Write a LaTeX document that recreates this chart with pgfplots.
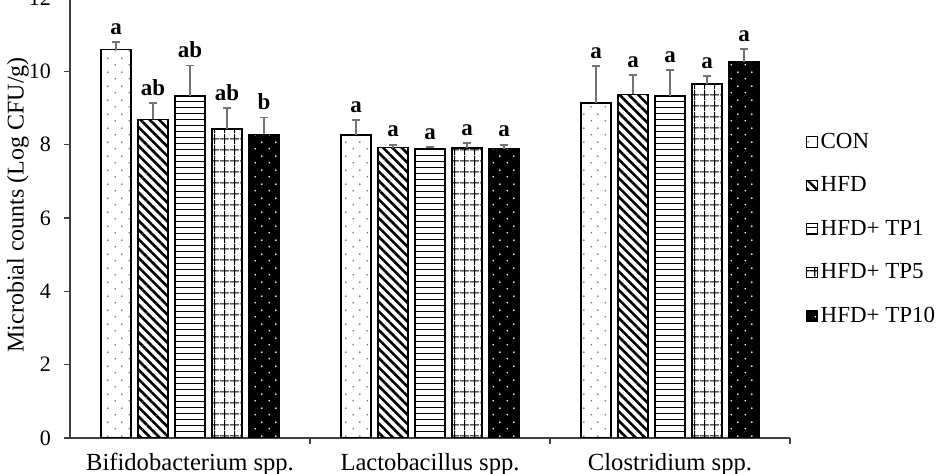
\documentclass[border=0pt]{standalone}
\usepackage{pgfplots}
\usepackage{pgfplotstable}
\pgfplotsset{compat=1.18}
\usepackage{fontspec}
\setmainfont{Liberation Serif}
\usetikzlibrary{patterns.meta}

% staggered dot tile (used grey on white and white on black)
\pgfdeclarepattern{
  name=sparsedots,
  type=uncolored,
  bottom left={\pgfpoint{0pt}{0pt}},
  top right={\pgfpoint{7pt}{7pt}},
  tile size={\pgfpoint{7pt}{7pt}},
  code={
    \pgfpathcircle{\pgfpoint{1.75pt}{1.75pt}}{0.5pt}
    \pgfpathcircle{\pgfpoint{5.25pt}{5.25pt}}{0.5pt}
    \pgfusepath{fill}
  }
}
% open square grid
\pgfdeclarepattern{
  name=widegrid,
  type=uncolored,
  bottom left={\pgfpoint{0pt}{0pt}},
  top right={\pgfpoint{5pt}{5.5pt}},
  tile size={\pgfpoint{5pt}{5.5pt}},
  code={
    \pgfsetlinewidth{0.6pt}
    \pgfpathmoveto{\pgfpoint{0pt}{2.75pt}}\pgfpathlineto{\pgfpoint{5pt}{2.75pt}}
    \pgfpathmoveto{\pgfpoint{2.5pt}{0pt}}\pgfpathlineto{\pgfpoint{2.5pt}{5.5pt}}
    \pgfusepath{stroke}
  }
}

% columns: group position, mean, SD, significance letter
\pgfplotstableread{
x y err lab
0 10.59 0.21 a
1 8.27 0.41 a
2 9.13 1.02 a
}\tcon
\pgfplotstableread{
x y err lab
0 8.69 0.45 ab
1 7.92 0.08 a
2 9.37 0.53 a
}\thfd
\pgfplotstableread{
x y err lab
0 9.33 0.83 ab
1 7.90 0.03 a
2 9.33 0.70 a
}\ttpone
\pgfplotstableread{
x y err lab
0 8.42 0.58 ab
1 7.91 0.14 a
2 9.66 0.22 a
}\ttpfive
\pgfplotstableread{
x y err lab
0 8.28 0.46 b
1 7.89 0.11 a
2 10.25 0.35 a
}\ttpten

\begin{document}
\begin{tikzpicture}
\begin{axis}[
  at={(0,0)}, anchor=south west,
  scale only axis, width=360pt, height=220pt,
  ybar=3.5pt, bar width=15pt,
  xmin=-0.5, xmax=2.5, ymin=0, ymax=12,
  ytick={0,2,...,12},
  axis x line=bottom, axis y line=left,
  axis line style={-, line width=0.8pt, black!75},
  tick style={line width=0.8pt, black!75},
  tick align=outside,
  major tick length=3pt,
  xtick={0.5,1.5,2.5}, xticklabels={},
  extra x ticks={0,1,2},
  extra x tick labels={Bifidobacterium spp., Lactobacillus spp., Clostridium spp.},
  extra x tick style={major tick length=0pt},
  /pgf/number format/assume math mode=true,
  yticklabel style={xshift=-3pt, font=\fontsize{11}{13}\selectfont},
  xticklabel style={yshift=-4pt, font=\fontsize{12.3}{14}\selectfont},
  ylabel={Microbial counts (Log CFU/g)},
  every axis y label/.style={at={(axis description cs:-0.0722,0.53)}, rotate=90, anchor=center, font=\fontsize{12}{14}\selectfont},
  point meta=explicit symbolic,
  nodes near coords,
  visualization depends on={\thisrow{err} \as \errval},
  nodes near coords style={font=\fontsize{11.5}{13}\selectfont\bfseries, yshift=\errval*18.333pt},
  error bars/y dir=plus,
  error bars/y explicit,
  error bars/error bar style={line width=0.9pt, black!55},
  error bars/error mark options={rotate=90, mark size=2.2pt, line width=0.9pt, black!55},
  legend image code/.code={\draw[#1, line width=0.5pt] (0pt,-2.6pt) rectangle (5.2pt,2.6pt);},
  legend cell align=left,
  legend style={at={(1.022,0.475)}, anchor=west, draw=none, fill=none, inner sep=0pt,
    row sep=8.7pt, font=\fontsize{11.5}{13}\selectfont,
    nodes={inner xsep=1pt},
    /tikz/every odd column/.append style={column sep=0.5pt}},
]
\addplot[draw=black, line width=0.8pt, fill=white, pattern=sparsedots, pattern color=black!55]
  table[x=x, y=y, y error=err, meta=lab] {\tcon};
\addplot[draw=black, line width=0.8pt, pattern={Lines[angle=-45, distance=3.3pt, line width=1.3pt]}, pattern color=black]
  table[x=x, y=y, y error=err, meta=lab] {\thfd};
\addplot[draw=black, line width=0.8pt, pattern={Lines[angle=0, distance=3pt, line width=0.5pt]}, pattern color=black]
  table[x=x, y=y, y error=err, meta=lab] {\ttpone};
\addplot[draw=black, line width=0.8pt, pattern=widegrid, pattern color=black]
  table[x=x, y=y, y error=err, meta=lab] {\ttpfive};
\addplot[draw=black, line width=0.8pt, fill=black, postaction={pattern=sparsedots, pattern color=white}]
  table[x=x, y=y, y error=err, meta=lab] {\ttpten};
\legend{CON, HFD, HFD+ TP1, HFD+ TP5, HFD+ TP10}
\end{axis}
\pgfresetboundingbox
\path (-35pt,-18pt) rectangle (440.5pt,219pt);
\end{tikzpicture}
\end{document}
